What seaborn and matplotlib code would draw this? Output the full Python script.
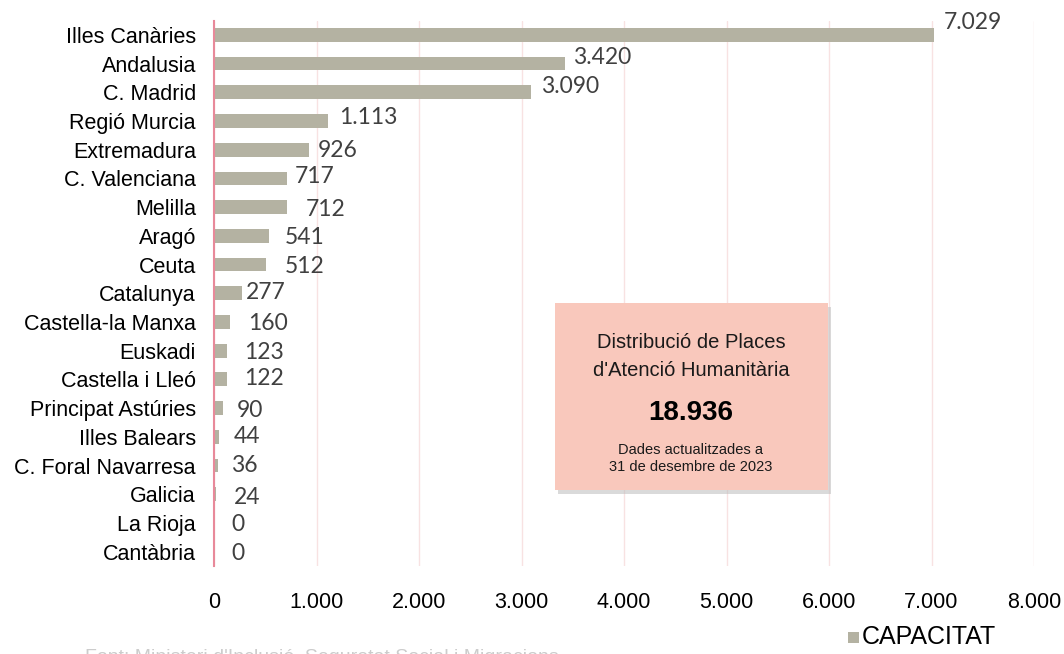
import matplotlib
matplotlib.use("Agg")
import matplotlib.pyplot as plt
import seaborn as sns
import pandas as pd
from matplotlib.patches import Rectangle
from matplotlib.ticker import FuncFormatter

regions = ["Illes Canàries", "Andalusia", "C. Madrid", "Regió Murcia", "Extremadura",
           "C. Valenciana", "Melilla", "Aragó", "Ceuta", "Catalunya", "Castella-la Manxa",
           "Euskadi", "Castella i Lleó", "Principat Astúries", "Illes Balears",
           "C. Foral Navarresa", "Galicia", "La Rioja", "Cantàbria"]
capacitat = [7029, 3420, 3090, 1113, 926, 717, 712, 541, 512, 277, 160, 123, 122, 90, 44, 36, 24, 0, 0]
value_labels = ["7.029", "3.420", "3.090", "1.113", "926", "717", "712", "541", "512", "277",
                "160", "123", "122", "90", "44", "36", "24", "0", "0"]
xticks = [0, 1000, 2000, 3000, 4000, 5000, 6000, 7000, 8000]
box_title = ["Distribució de Places", "d'Atenció Humanitària"]
box_total = "18.936"
box_note = ["Dades actualitzades a", "31 de desembre de 2023"]
legend_label = "CAPACITAT"
source_text = "Font: Ministeri d'Inclusió, Seguretat Social i Migracions"

# label placement nudges (pixels: right, up) mimicking the manual label layout
label_dx = [9, 8, 10, 11, 9, 7, 19, 15, 18, 3, 18, 18, 18, 14, 15, 13, 17, 17, 17]
label_dy = [12, 6, 6, 3, -1, 2, -2, -2, -2, 1, -2, -2, 1, -2, 0, 0, -3, -2, -2]

df = pd.DataFrame({"region": regions, "capacitat": capacitat})

sns.set_theme(style="white")
plt.rcParams["font.family"] = ["Liberation Sans", "DejaVu Sans"]

fig = plt.figure(figsize=(10.64, 6.54), dpi=100)
ax = fig.add_axes([214 / 1064, (654 - 566) / 654, (1034 - 214) / 1064, (566 - 20.5) / 654])

bar_color = "#b4b2a2"
sns.barplot(data=df, x="capacitat", y="region", color=bar_color, width=0.48,
            saturation=1, ax=ax, edgecolor="none")

ax.set_xlim(0, 8000)
ax.set_ylim(len(regions) - 0.5, -0.5)
ax.set_xticks(xticks)
ax.xaxis.set_major_formatter(FuncFormatter(lambda v, p: f"{int(v):,}".replace(",", ".")))
ax.set_xlabel("")
ax.set_ylabel("")
ax.tick_params(axis="x", labelsize=15.5, colors="#000000", pad=19, length=0)
ax.tick_params(axis="y", labelsize=15.5, colors="#000000", pad=13, length=0)
ax.grid(axis="x", color="#f8e2e2", linewidth=1)
ax.set_axisbelow(True)
for s in ["top", "right", "bottom"]:
    ax.spines[s].set_visible(False)
ax.spines["left"].set_color("#e8899a")
ax.spines["left"].set_linewidth(1.5)

for i, (v, lab) in enumerate(zip(capacitat, value_labels)):
    ax.annotate(lab, xy=(v, i), xytext=(label_dx[i] * 0.72, label_dy[i] * 0.72),
                textcoords="offset points", va="center", ha="left", fontsize=16.5,
                color="#404040", family=["Lato", "DejaVu Sans"])

# Info box with shadow
fig.patches.append(Rectangle((558 / 1064, (654 - 494) / 654), (828 - 555) / 1064, (490 - 303) / 654,
                             transform=fig.transFigure, facecolor="#bdbdbd", edgecolor="none",
                             alpha=0.55, zorder=4))
fig.patches.append(Rectangle((555 / 1064, (654 - 490) / 654), (828 - 555) / 1064, (490 - 303) / 654,
                             transform=fig.transFigure, facecolor="#f9c8bc", edgecolor="none", zorder=5))
cx = 691 / 1064
fig.text(cx, 1 - 342 / 654, box_title[0], ha="center", va="center", fontsize=14.5, color="#1a1a1a", zorder=6)
fig.text(cx, 1 - 370 / 654, box_title[1], ha="center", va="center", fontsize=14.5, color="#1a1a1a", zorder=6)
fig.text(cx, 1 - 413 / 654, box_total, ha="center", va="center", fontsize=20, fontweight="bold", color="#000000", zorder=6)
fig.text(cx, 1 - 450 / 654, box_note[0], ha="center", va="center", fontsize=10.5, color="#1a1a1a", zorder=6)
fig.text(cx, 1 - 467 / 654, box_note[1], ha="center", va="center", fontsize=10.5, color="#1a1a1a", zorder=6)

# Legend
fig.patches.append(Rectangle((848 / 1064, 1 - 643 / 654), 11 / 1064, 11 / 654,
                             transform=fig.transFigure, facecolor=bar_color, edgecolor="none"))
fig.text(862 / 1064, 1 - 637 / 654, legend_label, ha="left", va="center", fontsize=18, color="#000000")

# Source (cropped at the bottom, as in the reference)
fig.text(85 / 1064, 1 - 649 / 654, source_text, ha="left", va="top", fontsize=14, color="#cccccc")

fig.savefig("out.png", dpi=100, facecolor="white")
